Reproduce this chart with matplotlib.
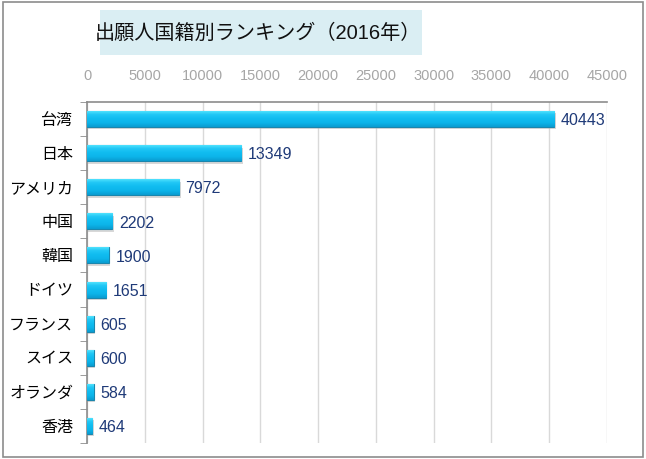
import matplotlib
matplotlib.use("Agg")
import matplotlib.pyplot as plt
import numpy as np
from matplotlib.patches import Rectangle
from matplotlib.colors import LinearSegmentedColormap

plt.rcParams['font.family'] = ['Liberation Sans', 'Noto Sans CJK JP', 'DejaVu Sans']

title = "出願人国籍別ランキング（2016年）"
categories = ["台湾", "日本", "アメリカ", "中国", "韓国", "ドイツ", "フランス", "スイス", "オランダ", "香港"]
values = [40443, 13349, 7972, 2202, 1900, 1651, 605, 600, 584, 464]
xticks = [0, 5000, 10000, 15000, 20000, 25000, 30000, 35000, 40000, 45000]

fig = plt.figure(figsize=(6.46, 4.59), dpi=100)
fig.patches.append(Rectangle((0.004, 0.005), 0.992, 0.99, transform=fig.transFigure,
                             fill=False, edgecolor='#8c8c8c', linewidth=1.2))

ax = fig.add_axes([0.1347, 0.0349, 0.8049, 0.7429])
y = np.arange(len(categories))
bh = 0.47

# shadow
ax.barh(y + 0.07, values, height=bh, left=120, color='#b8b8b8', alpha=0.55, zorder=2)
bars = ax.barh(y, values, height=bh, color='#0fbaf0', edgecolor='#1b86ad', linewidth=0.8, zorder=3)

grad = np.linspace(0, 1, 64).reshape(-1, 1)
cmap = LinearSegmentedColormap.from_list('b', ['#5eeaff', '#22c8f6', '#10bcf0', '#0cb4ea', '#0a9cd0'])
for b in bars:
    x0, y0, w, h = b.get_x(), b.get_y(), b.get_width(), b.get_height()
    im = ax.imshow(grad, extent=[x0, x0 + w, y0 + h, y0], aspect='auto', cmap=cmap,
                   zorder=3.5, origin='upper')
    im.set_clip_path(b)

for yi, v in zip(y, values):
    ax.text(v + 550, yi + 0.05, str(v), va='center', ha='left', fontsize=11.5, color='#1f3a78', zorder=5)

ax.set_xlim(0, 45000)
ax.set_ylim(len(categories) - 0.5, -0.5)
ax.set_xticks(xticks)
ax.set_xticklabels([str(t) for t in xticks])
ax.xaxis.tick_top()
ax.tick_params(axis='x', length=0, labelsize=10.5, labelcolor='#a6a6a6', pad=14)
ax.set_yticks(y)
ax.set_yticklabels(categories, fontsize=11.5, color='black')
ax.tick_params(axis='y', length=0, pad=10)
ax.set_yticks(np.arange(-0.5, len(categories), 1), minor=True)
ax.tick_params(axis='y', which='minor', length=5, color='#8c8c8c', direction='out')
ax.grid(axis='x', color='#d9d9d9', linewidth=1, zorder=0)
ax.set_axisbelow(True)
for s in ['right', 'bottom']:
    ax.spines[s].set_visible(False)
for s in ['top', 'left']:
    ax.spines[s].set_color('#8c8c8c')
    ax.spines[s].set_linewidth(1.2)

fig.patches.append(Rectangle((100 / 646, 1 - 55 / 459), 322 / 646, 45 / 459, transform=fig.transFigure,
                             facecolor='#daeef3', edgecolor='none'))
fig.text(258 / 646, 1 - 33 / 459, title, ha='center', va='center', fontsize=14.5, color='#111111')

fig.savefig('out.png', dpi=100)
